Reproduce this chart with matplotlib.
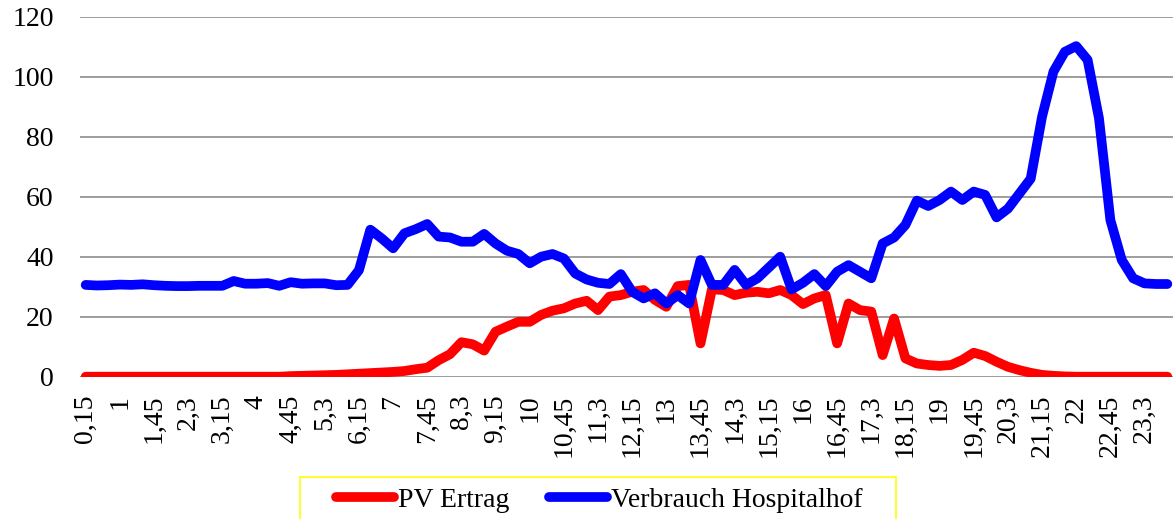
import matplotlib
matplotlib.use('Agg')
import matplotlib.pyplot as plt
from matplotlib.patches import Rectangle
from matplotlib.lines import Line2D

plt.rcParams['font.family'] = ['Liberation Serif', 'DejaVu Serif']

times = [
    "0,15", "0,3", "0,45", "1", "1,15", "1,3", "1,45", "2",
    "2,15", "2,3", "2,45", "3", "3,15", "3,3", "3,45", "4",
    "4,15", "4,3", "4,45", "5", "5,15", "5,3", "5,45", "6",
    "6,15", "6,3", "6,45", "7", "7,15", "7,3", "7,45", "8",
    "8,15", "8,3", "8,45", "9", "9,15", "9,3", "9,45", "10",
    "10,15", "10,3", "10,45", "11", "11,15", "11,3", "11,45", "12",
    "12,15", "12,3", "12,45", "13", "13,15", "13,3", "13,45", "14",
    "14,15", "14,3", "14,45", "15", "15,15", "15,3", "15,45", "16",
    "16,15", "16,3", "16,45", "17", "17,15", "17,3", "17,45", "18",
    "18,15", "18,3", "18,45", "19", "19,15", "19,3", "19,45", "20",
    "20,15", "20,3", "20,45", "21", "21,15", "21,3", "21,45", "22",
    "22,15", "22,3", "22,45", "23", "23,15", "23,3", "23,45", "24",
]

pv_ertrag = [
    0, 0, 0, 0, 0, 0, 0, 0, 0, 0, 0, 0, 0, 0, 0, 0,
    0, 0, 0.2, 0.3, 0.4, 0.5, 0.6, 0.8, 1.0, 1.2, 1.4, 1.6, 1.9, 2.5, 3.0, 5.5,
    7.5, 11.5, 10.8, 8.7, 15.0, 16.7, 18.3, 18.3, 20.6, 22.0, 22.8, 24.4, 25.3, 22.2, 26.7, 27.2,
    28.3, 28.9, 25.6, 23.3, 30.2, 30.6, 11.1, 29.1, 28.9, 27.2, 28.0, 28.3, 27.8, 28.9, 27.2, 24.2,
    26.1, 27.2, 11.1, 24.4, 22.2, 21.7, 7.2, 19.4, 6.1, 4.4, 3.9, 3.6, 3.9, 5.6, 8.0, 6.9,
    5.0, 3.3, 2.2, 1.3, 0.6, 0.3, 0.1, 0, 0, 0, 0, 0, 0, 0, 0, 0,
]

verbrauch = [
    30.6, 30.4, 30.5, 30.7, 30.6, 30.8, 30.5, 30.3, 30.2, 30.2, 30.3, 30.3, 30.3, 31.9, 31.0, 31.0,
    31.2, 30.3, 31.5, 31.0, 31.1, 31.1, 30.5, 30.6, 35.5, 49.0, 46.1, 42.8, 47.8, 49.2, 50.9, 46.7,
    46.4, 45.0, 45.0, 47.6, 44.4, 42.0, 40.9, 37.8, 40.0, 40.9, 39.4, 34.4, 32.4, 31.3, 30.9, 34.2,
    28.3, 26.1, 27.8, 24.4, 27.2, 24.4, 38.9, 30.6, 30.6, 35.6, 30.6, 32.8, 36.4, 40.0, 29.1, 31.3,
    34.2, 30.2, 35.0, 37.2, 35.0, 32.8, 44.4, 46.4, 50.6, 58.7, 56.9, 58.9, 61.7, 58.9, 61.7, 60.6,
    53.1, 56.0, 61.0, 66.0, 86.7, 101.7, 108.3, 110.2, 105.6, 86.1, 52.2, 38.9, 32.8, 31.1, 30.9, 30.9,
]

series_names = ["PV Ertrag", "Verbrauch Hospitalhof"]
y_ticks = [0, 20, 40, 60, 80, 100, 120]

W, H = 1173, 519
fig = plt.figure(figsize=(W / 100, H / 100), dpi=100)
ax = fig.add_axes([80 / W, (H - 376.7) / H, (W - 80) / W, 360 / H])

x = list(range(len(times)))
lw = 7.0
ax.plot(x, pv_ertrag, color='#FF0000', lw=lw, solid_capstyle='round',
        solid_joinstyle='round', zorder=3)
ax.plot(x, verbrauch, color='#0000FF', lw=lw, solid_capstyle='round',
        solid_joinstyle='round', zorder=4)

ax.set_xlim(-0.5, len(times) - 0.5)
ax.set_ylim(0, 120)
ax.set_yticks(y_ticks)
ax.set_yticklabels([str(v) for v in y_ticks])
ax.set_xticks(x[::3])
ax.set_xticklabels(times[::3], rotation=90)
ax.tick_params(axis='both', length=0, labelsize=20, colors='black')
ax.tick_params(axis='x', pad=13)
ax.tick_params(axis='y', pad=19)
ax.grid(axis='y', color='#8c8c8c', lw=1.2, zorder=1)
ax.set_axisbelow(True)
for s in ax.spines.values():
    s.set_visible(False)

# legend frame (cut off by figure bottom)
fig.patches.append(Rectangle((300 / W, -0.1), 596 / W, 0.1 + (H - 477) / H,
                             transform=fig.transFigure, fill=False,
                             edgecolor='#FFFF00', lw=1.2))
handles = [Line2D([], [], color='#FF0000', lw=lw, solid_capstyle='round'),
           Line2D([], [], color='#0000FF', lw=lw, solid_capstyle='round')]
fig.legend(handles, series_names, loc='center left',
           bbox_to_anchor=(336 / W, (H - 500) / H), ncol=2, frameon=False,
           fontsize=20, handlelength=2.1, handletextpad=0.15,
           columnspacing=1.4, borderpad=0, borderaxespad=0)

fig.savefig('out.png', dpi=100)
